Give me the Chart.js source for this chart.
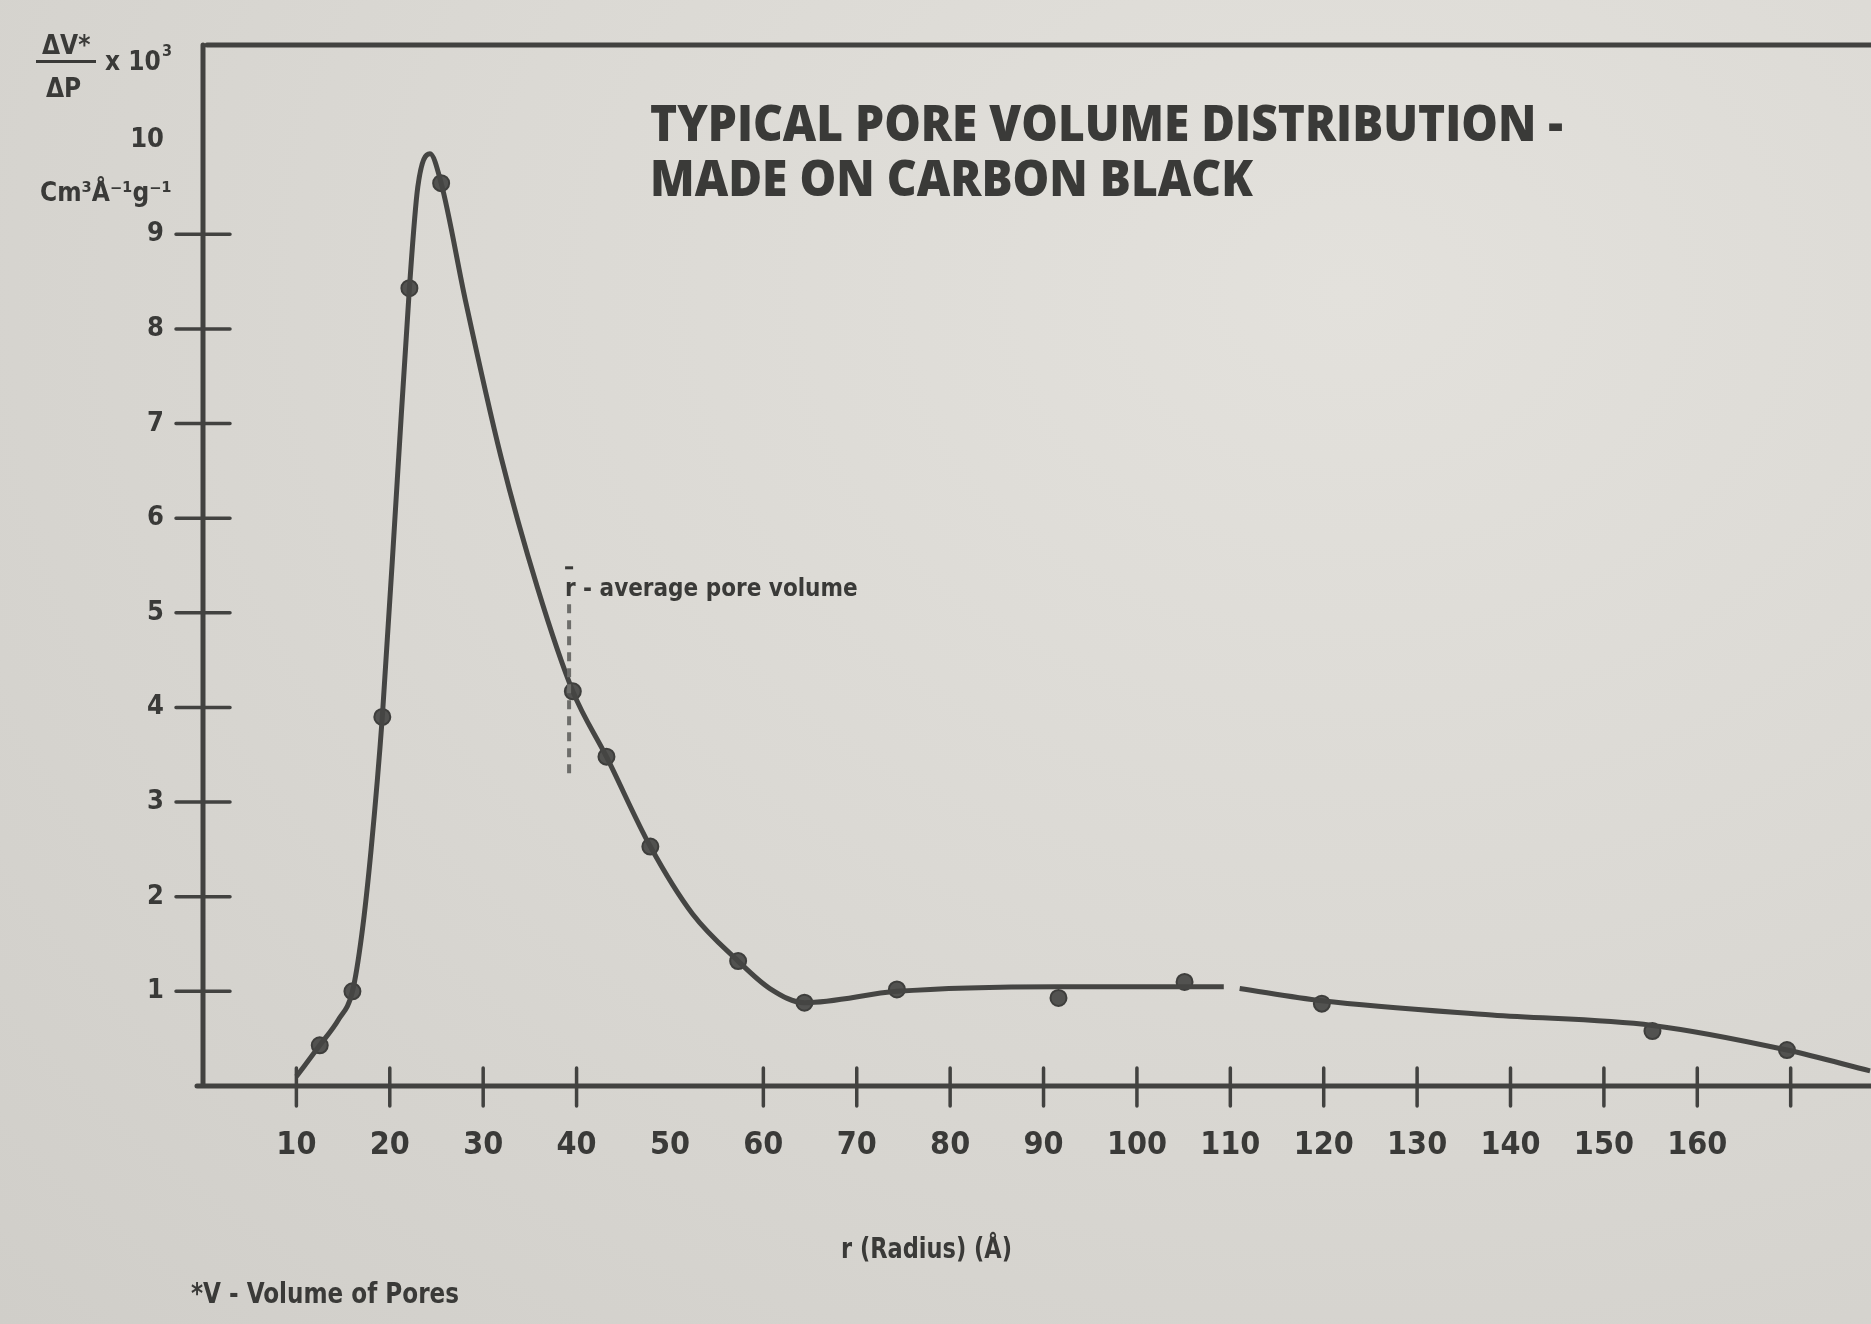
<!DOCTYPE html>
<html>
<head>
<meta charset="utf-8">
<script src="https://cdn.jsdelivr.net/npm/chart.js@4.4.1/dist/chart.umd.min.js"></script>
<style>
html, body { margin: 0; padding: 0; }
body {
    width: 1871px; height: 1324px; overflow: hidden;
    background: radial-gradient(ellipse at 72% 22%, #e3e1dc 0%, #dbd9d4 45%, #d0cec9 100%);
}
#graph { position: absolute; left: 0; top: 0; }
</style>
</head>
<body>
<canvas id="graph" width="1871" height="1324"></canvas>
<script>
// 測定点 (マーカー) : r (Å) と ΔV/ΔP x 10^3
var pointRadius = [12.5, 16, 19.2, 22.1, 25.5, 39.6, 43.2, 47.9, 57.3, 64.4, 74.3, 91.6, 105.1, 119.8, 155.2, 169.6];
var pointValue  = [0.43, 1.0, 3.9, 8.43, 9.54, 4.17, 3.48, 2.53, 1.32, 0.88, 1.02, 0.93, 1.10, 0.87, 0.58, 0.38];

// 手書きの曲線 (図から読み取り、null = 線の切れ目)
var curveRadius = [10, 12.5, 14.5, 16, 17, 18, 19.2, 20.8, 22.1, 23, 24.3, 25.5, 28.1, 31.9, 35.8, 39.6, 43.2, 47.9, 52.4, 57.3, 60.7, 64.4, 74.3, 91.6, 105, 109.3, 110, 111, 119.8, 138, 155.2, 169.6, 178.5];
var curveValue  = [0.1, 0.43, 0.7, 1.0, 1.6, 2.5, 3.9, 6.4, 8.43, 9.5, 9.85, 9.54, 8.3, 6.65, 5.27, 4.17, 3.48, 2.53, 1.82, 1.32, 1.03, 0.88, 1.0, 1.05, 1.05, 1.05, null, 1.03, 0.9, 0.75, 0.64, 0.38, 0.16];

// 目盛
var xTickLabels = [10, 20, 30, 40, 50, 60, 70, 80, 90, 100, 110, 120, 130, 140, 150, 160];
var xTickMarks  = [10, 20, 30, 40, 60, 70, 80, 90, 100, 110, 120, 130, 140, 150, 160, 170];
var yTickLabels = [1, 2, 3, 4, 5, 6, 7, 8, 9, 10];
var yTickMarks  = [1, 2, 3, 4, 5, 6, 7, 8, 9];

// 平均細孔 (破線)
var avgRadius = 39.2;
var avgFrom = 3.29;
var avgTo = 5.09;

var INK = '#3a3a38';
var NARROW = '"Liberation Sans Narrow", "DejaVu Sans Condensed", sans-serif';

function xy(xs, ys) {
    var out = [];
    for (var i = 0; i < xs.length; i++) out.push({ x: xs[i], y: ys[i] });
    return out;
}

// 軸・枠・目盛・文字
var framePlugin = {
    id: 'frame',
    afterDatasetsDraw: function(chart) {
        var ctx = chart.ctx, a = chart.chartArea;
        var sx = chart.scales.x, sy = chart.scales.y;
        ctx.save();
        ctx.strokeStyle = '#424240';
        ctx.lineCap = 'round';
        ctx.lineWidth = 5;
        ctx.beginPath();
        ctx.moveTo(a.left, a.top); ctx.lineTo(a.left, a.bottom);
        ctx.moveTo(a.left - 6, a.bottom); ctx.lineTo(a.right, a.bottom);
        ctx.moveTo(a.left + 4, a.top); ctx.lineTo(a.right, a.top);
        ctx.stroke();

        ctx.lineWidth = 3.5;
        ctx.beginPath();
        yTickMarks.forEach(function(v) {
            var y = sy.getPixelForValue(v);
            ctx.moveTo(a.left - 27, y); ctx.lineTo(a.left + 27, y);
        });
        xTickMarks.forEach(function(v) {
            var x = sx.getPixelForValue(v);
            ctx.moveTo(x, a.bottom - 18); ctx.lineTo(x, a.bottom + 20);
        });
        ctx.stroke();

        // 平均細孔の破線
        var ax = sx.getPixelForValue(avgRadius);
        ctx.strokeStyle = '#6d6d6a';
        ctx.lineWidth = 4;
        ctx.lineCap = 'butt';
        ctx.setLineDash([9, 7]);
        ctx.beginPath();
        ctx.moveTo(ax, sy.getPixelForValue(avgTo));
        ctx.lineTo(ax, sy.getPixelForValue(avgFrom));
        ctx.stroke();
        ctx.setLineDash([]);

        ctx.fillStyle = INK;
        ctx.textBaseline = 'alphabetic';
        ctx.textAlign = 'left';
        var ty = sy.getPixelForValue(avgTo) - 8;
        ctx.font = 'bold 24px ' + NARROW;
        ctx.fillText('r', ax - 4, ty);
        ctx.fillRect(ax - 4, ty - 30, 8, 3);
        ctx.fillText('- average pore volume', ax + 14, ty, 290);

        // タイトル
        ctx.font = '800 50px "Open Sans", "DejaVu Sans", sans-serif';
        ctx.fillText('TYPICAL PORE VOLUME DISTRIBUTION -', 650, 141, 913);
        ctx.fillText('MADE ON CARBON BLACK', 650, 196, 603);

        // 縦軸の単位
        ctx.font = 'bold 26px ' + NARROW;
        ctx.fillText('\u0394V*', 42, 54, 50);
        ctx.fillRect(36, 60, 60, 3);
        ctx.fillText('\u0394P', 46, 97, 38);
        ctx.fillText('x 10', 105, 70, 56);
        ctx.font = 'bold 16px ' + NARROW;
        ctx.fillText('3', 162, 56);
        ctx.font = 'bold 26px ' + NARROW;
        ctx.fillText('Cm\u00b3\u00c5\u207b\u00b9g\u207b\u00b9', 40, 201, 135);

        // 横軸の名前と注
        ctx.font = 'bold 28px ' + NARROW;
        ctx.fillText('r (Radius) (\u00c5)', 841, 1258, 171);
        ctx.fillText('*V - Volume of Pores', 191, 1303, 268);
        ctx.restore();
    }
};

var ctx = document.getElementById('graph').getContext('2d');
var myChart = new Chart(ctx, {
    type: 'scatter',
    data: {
        datasets: [
            {
                label: 'curve',
                data: xy(curveRadius, curveValue),
                showLine: true,
                spanGaps: false,
                borderColor: '#454543',
                borderWidth: 5,
                pointRadius: 0,
                cubicInterpolationMode: 'monotone'
            },
            {
                label: 'points',
                data: xy(pointRadius, pointValue),
                showLine: false,
                pointRadius: 8,
                pointBackgroundColor: '#525250',
                pointBorderColor: '#3e3e3c',
                pointBorderWidth: 2
            }
        ]
    },
    options: {
        responsive: false,
        animation: false,
        layout: { autoPadding: false, padding: { top: 45, right: 0, left: 0, bottom: 0 } },
        plugins: {
            legend: { display: false },
            tooltip: { enabled: false },
            title: { display: false }
        },
        scales: {
            x: {
                type: 'linear',
                min: 0,
                max: 178.6,
                border: { display: false },
                grid: { display: true, drawOnChartArea: false, drawTicks: false, color: 'rgba(0,0,0,0)' },
                ticks: {
                    stepSize: 10,
                    includeBounds: false,
                    autoSkip: false,
                    maxRotation: 0,
                    padding: 40,
                    color: INK,
                    font: { family: NARROW, weight: 'bold', size: 32 },
                    callback: function(v) { return xTickLabels.indexOf(v) >= 0 ? String(v) : ''; }
                },
                afterFit: function(scale) {
                    scale.height = 238;
                    scale.paddingLeft = 0; scale.paddingRight = 0;
                }
            },
            y: {
                type: 'linear',
                min: 0,
                max: 11,
                border: { display: false },
                grid: { display: true, drawOnChartArea: false, drawTicks: false, color: 'rgba(0,0,0,0)' },
                ticks: {
                    stepSize: 1,
                    includeBounds: false,
                    autoSkip: false,
                    padding: 39,
                    color: INK,
                    font: { family: NARROW, weight: 'bold', size: 27 },
                    callback: function(v) { return yTickLabels.indexOf(v) >= 0 ? String(v) : ''; }
                },
                afterFit: function(scale) {
                    scale.width = 203;
                    scale.paddingTop = 0; scale.paddingBottom = 0;
                }
            }
        }
    },
    plugins: [framePlugin]
});
</script>
</body>
</html>
